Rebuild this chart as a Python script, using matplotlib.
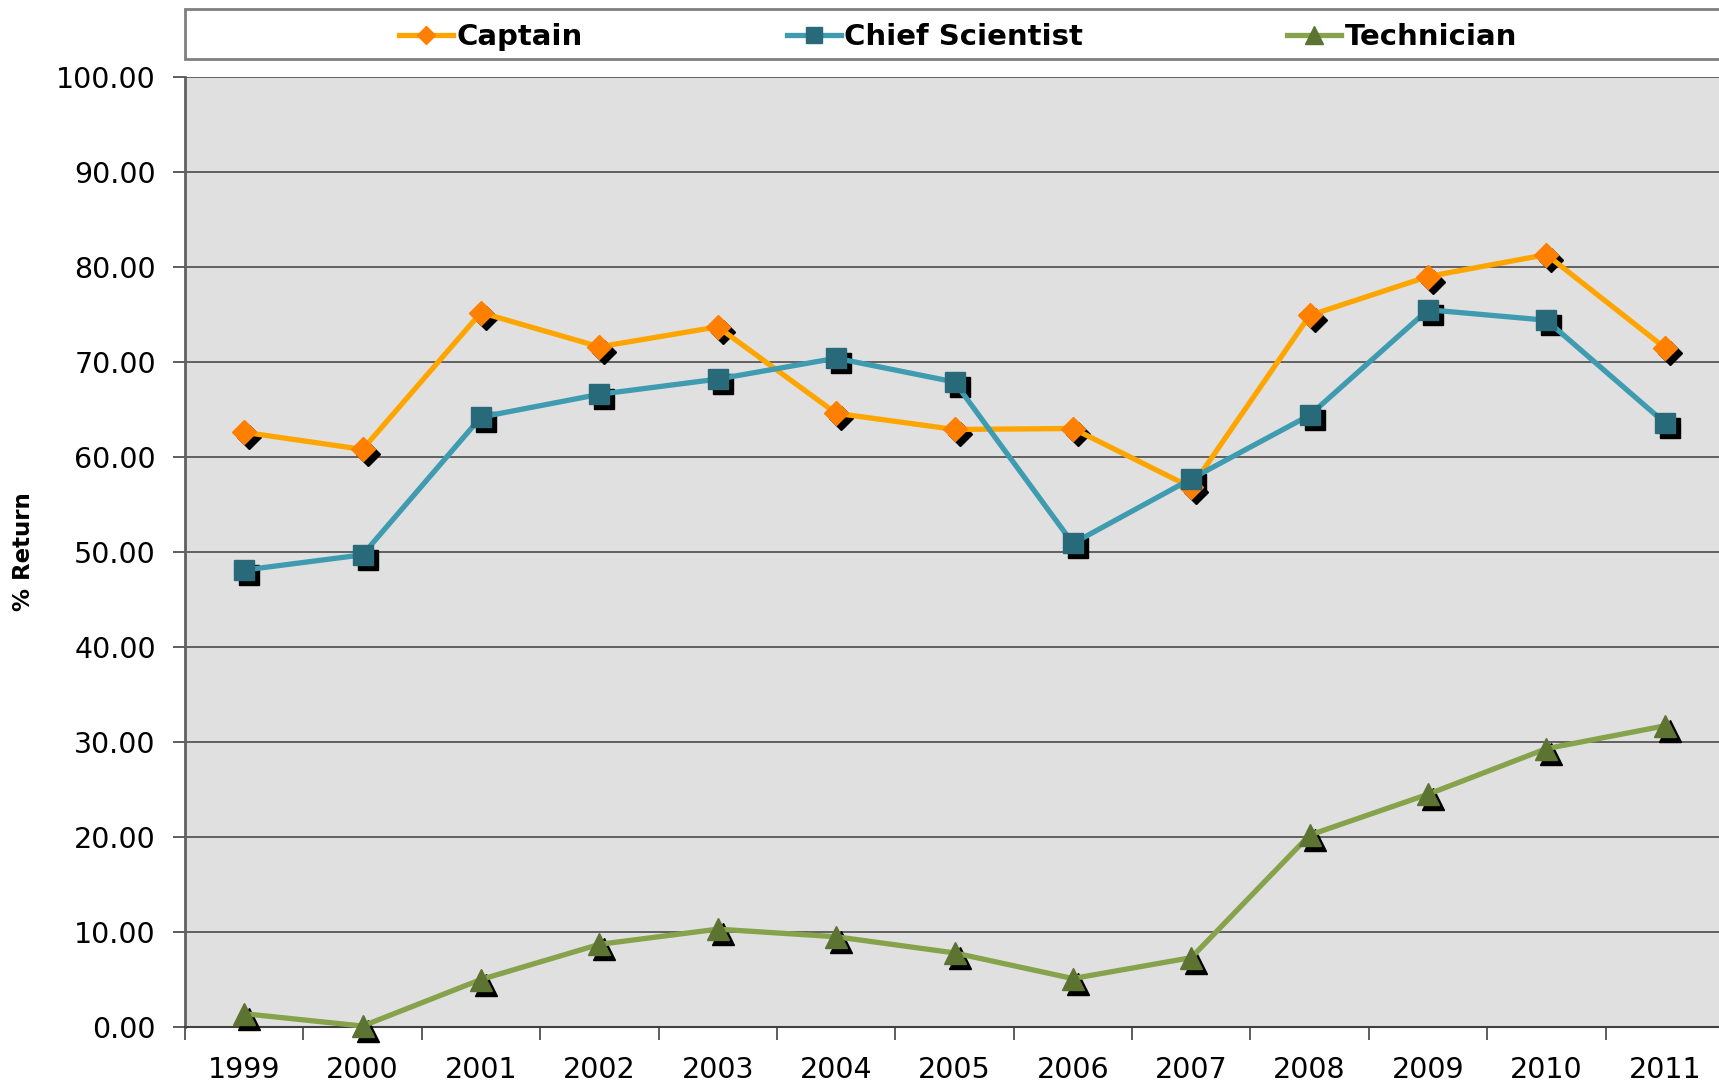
import matplotlib
matplotlib.use("Agg")
import matplotlib.pyplot as plt
import matplotlib.transforms as mtransforms
from matplotlib.patches import Rectangle
from matplotlib.ticker import FixedLocator, FuncFormatter

years = ["1999", "2000", "2001", "2002", "2003", "2004", "2005",
         "2006", "2007", "2008", "2009", "2010", "2011"]
captain = [62.6, 60.8, 75.2, 71.6, 73.7, 64.6, 62.9, 63.0, 56.8, 74.9, 79.0, 81.3, 71.5]
chief_scientist = [48.1, 49.7, 64.2, 66.6, 68.2, 70.4, 67.9, 50.9, 57.7, 64.4, 75.5, 74.4, 63.6]
technician = [1.4, 0.1, 5.0, 8.7, 10.3, 9.5, 7.8, 5.1, 7.3, 20.2, 24.5, 29.3, 31.7]

series = [
    ("Captain", captain, "#FFA500", "#FF7F00", "D", 12),
    ("Chief Scientist", chief_scientist, "#3F9BB0", "#286A7A", "s", 15),
    ("Technician", technician, "#86A24A", "#5D7332", "^", 16),
]

W, H = 1719, 1088
fig = plt.figure(figsize=(W / 100, H / 100), dpi=100)
left = 185 / W
right = 1724 / W
bottom = (H - 1027) / H
top = (H - 77) / H
ax = fig.add_axes([left, bottom, right - left, top - bottom])
ax.set_facecolor("#E0E0E0")

x = [i + 0.5 for i in range(len(years))]
shadow = mtransforms.offset_copy(ax.transData, fig=fig, x=5, y=-5, units="dots")

handles = []
for name, vals, lc, mc, mk, ms in series:
    ax.plot(x, vals, linestyle="none", marker=mk, markersize=ms,
            color="black", transform=shadow, zorder=3, clip_on=False)
for name, vals, lc, mc, mk, ms in series:
    h, = ax.plot(x, vals, color=lc, linewidth=3.8, marker=mk, markersize=ms,
                 markerfacecolor=mc, markeredgecolor=mc, label=name, zorder=4,
                 clip_on=False)
    handles.append(h)

ax.set_xlim(0, len(years))
ax.set_ylim(0, 100)
ax.yaxis.set_major_locator(FixedLocator(range(0, 101, 10)))
ax.yaxis.set_major_formatter(FuncFormatter(lambda v, p: f"{v:.2f}"))
ax.grid(axis="y", color="#4A4A4A", linewidth=1.2, zorder=1)
ax.set_axisbelow(True)

ax.set_xticks(x)
ax.set_xticklabels(years)
ax.set_xticks(range(0, len(years) + 1), minor=True)
ax.tick_params(axis="x", which="major", length=0, pad=21, labelsize=20.5)
ax.tick_params(axis="x", which="minor", length=9, width=1.3, color="#505050", direction="out")
ax.tick_params(axis="y", which="major", length=9, width=1.3, color="#505050",
               direction="out", pad=12, labelsize=20.5)

for s in ["top", "right"]:
    ax.spines[s].set_visible(False)
ax.spines["left"].set_color("#606060")
ax.spines["left"].set_linewidth(2)
ax.spines["bottom"].set_color("#404040")
ax.spines["bottom"].set_linewidth(1.5)

fig.text(24 / W, 1 - 552 / H, "% Return", rotation=90, fontsize=16.5,
         fontweight="bold", ha="center", va="center")

# legend box
box_top = 9
box_bot = 59
rect = Rectangle((left, (H - box_bot) / H), right - left + 0.01, (box_bot - box_top) / H,
                 transform=fig.transFigure, facecolor="white", edgecolor="#7F7F7F",
                 linewidth=2, zorder=0)
fig.patches.append(rect)
leg = fig.legend(handles=handles, loc="center", ncol=3,
                 bbox_to_anchor=(958 / W, 1 - 37 / H), frameon=False,
                 prop={"weight": "bold", "size": 21}, columnspacing=7.0,
                 handlelength=1.85, handletextpad=0.12, markerscale=0.8)

fig.savefig("out.png", dpi=100)
